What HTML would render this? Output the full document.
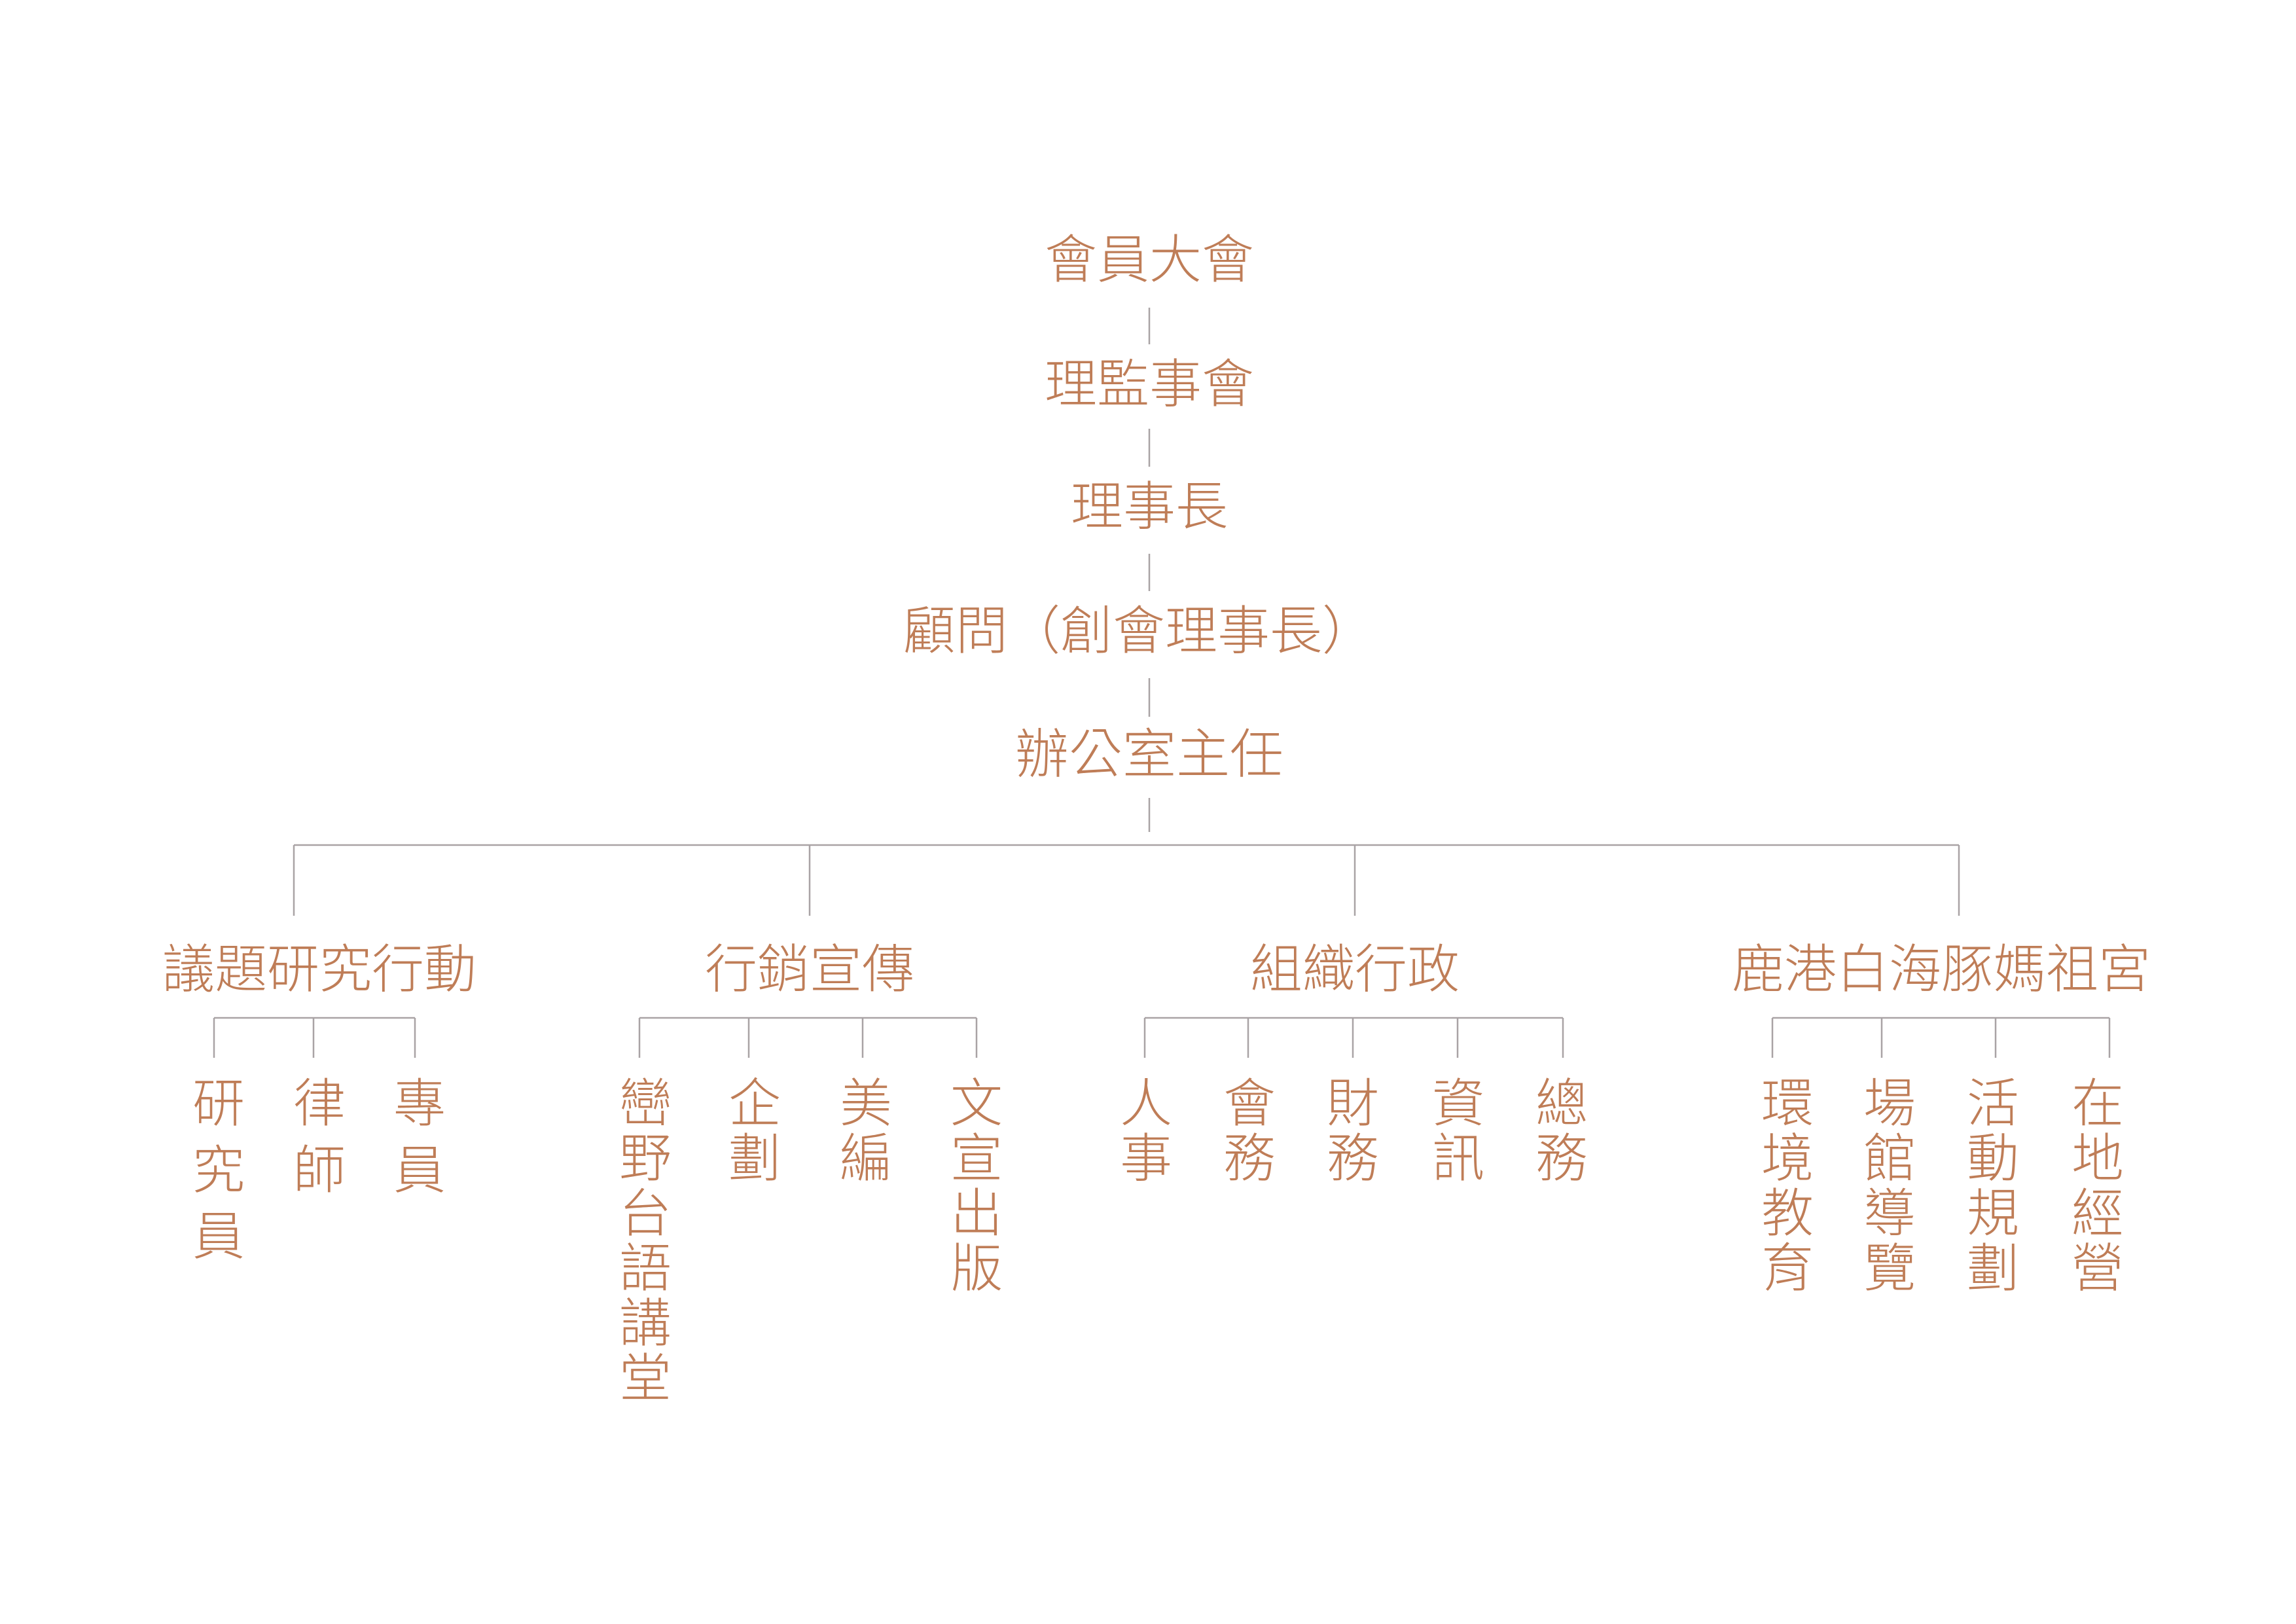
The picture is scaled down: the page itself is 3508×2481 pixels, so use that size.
<!DOCTYPE html>
<html><head><meta charset="utf-8"><style>
html,body{margin:0;padding:0;background:#fff;}
svg{display:block}
text{font-family:"Liberation Sans","Noto Sans CJK TC",sans-serif;font-weight:300;fill:#bf7d57;text-anchor:middle;dominant-baseline:central;font-size:80px;}
line{stroke:#a9a3a5;stroke-width:2.5}
</style></head><body>
<svg width="3508" height="2481" viewBox="0 0 3508 2481" xmlns="http://www.w3.org/2000/svg">
<text x="1756" y="397">會員大會</text>
<line x1="1756" y1="470" x2="1756" y2="526"/>
<text x="1756" y="587">理監事會</text>
<line x1="1756" y1="655" x2="1756" y2="713"/>
<text x="1756" y="774">理事長</text>
<line x1="1756" y1="846" x2="1756" y2="903"/>
<text x="1740" y="964">顧問（創會理事長）</text>
<line x1="1756" y1="1036" x2="1756" y2="1095"/>
<text x="1756" y="1153" style="font-size:82px">辦公室主任</text>
<line x1="1756" y1="1219" x2="1756" y2="1271"/>
<line x1="449" y1="1291" x2="2993" y2="1291"/>
<line x1="449" y1="1291" x2="449" y2="1399"/>
<line x1="1237" y1="1291" x2="1237" y2="1399"/>
<line x1="2070" y1="1291" x2="2070" y2="1399"/>
<line x1="2993" y1="1291" x2="2993" y2="1399"/>
<text x="488" y="1481">議題研究行動</text>
<text x="1237" y="1481">行銷宣傳</text>
<text x="2070" y="1481">組織行政</text>
<text x="2966" y="1481">鹿港白海豚媽祖宮</text>
<line x1="327" y1="1555" x2="634" y2="1555"/>
<line x1="327" y1="1555" x2="327" y2="1616"/>
<line x1="479" y1="1555" x2="479" y2="1616"/>
<line x1="634" y1="1555" x2="634" y2="1616"/>
<text x="334" y="1686">研</text><text x="334" y="1788">究</text><text x="334" y="1889">員</text>
<text x="488" y="1686">律</text><text x="488" y="1788">師</text>
<text x="641" y="1686">專</text><text x="641" y="1788">員</text>
<line x1="977" y1="1555" x2="1492" y2="1555"/>
<line x1="977" y1="1555" x2="977" y2="1616"/>
<line x1="1144" y1="1555" x2="1144" y2="1616"/>
<line x1="1318" y1="1555" x2="1318" y2="1616"/>
<line x1="1492" y1="1555" x2="1492" y2="1616"/>
<text x="986" y="1686">巒</text><text x="986" y="1770">野</text><text x="986" y="1854">台</text><text x="986" y="1938">語</text><text x="986" y="2022">講</text><text x="986" y="2106">堂</text>
<text x="1153" y="1686">企</text><text x="1153" y="1770">劃</text>
<text x="1323" y="1686">美</text><text x="1323" y="1770">編</text>
<text x="1492" y="1686">文</text><text x="1492" y="1770">宣</text><text x="1492" y="1854">出</text><text x="1492" y="1938">版</text>
<line x1="1749" y1="1555" x2="2388" y2="1555"/>
<line x1="1749" y1="1555" x2="1749" y2="1616"/>
<line x1="1907" y1="1555" x2="1907" y2="1616"/>
<line x1="2067" y1="1555" x2="2067" y2="1616"/>
<line x1="2227" y1="1555" x2="2227" y2="1616"/>
<line x1="2388" y1="1555" x2="2388" y2="1616"/>
<text x="1751" y="1686">人</text><text x="1751" y="1770">事</text>
<text x="1909" y="1686">會</text><text x="1909" y="1770">務</text>
<text x="2067" y="1686">財</text><text x="2067" y="1770">務</text>
<text x="2228" y="1686">資</text><text x="2228" y="1770">訊</text>
<text x="2386" y="1686">總</text><text x="2386" y="1770">務</text>
<line x1="2708" y1="1555" x2="3223" y2="1555"/>
<line x1="2708" y1="1555" x2="2708" y2="1616"/>
<line x1="2875" y1="1555" x2="2875" y2="1616"/>
<line x1="3049" y1="1555" x2="3049" y2="1616"/>
<line x1="3223" y1="1555" x2="3223" y2="1616"/>
<text x="2731" y="1686">環</text><text x="2731" y="1770">境</text><text x="2731" y="1854">教</text><text x="2731" y="1938">育</text>
<text x="2887" y="1686">場</text><text x="2887" y="1770">館</text><text x="2887" y="1854">導</text><text x="2887" y="1938">覽</text>
<text x="3045" y="1686">活</text><text x="3045" y="1770">動</text><text x="3045" y="1854">規</text><text x="3045" y="1938">劃</text>
<text x="3205" y="1686">在</text><text x="3205" y="1770">地</text><text x="3205" y="1854">經</text><text x="3205" y="1938">營</text>
</svg>
</body></html>
